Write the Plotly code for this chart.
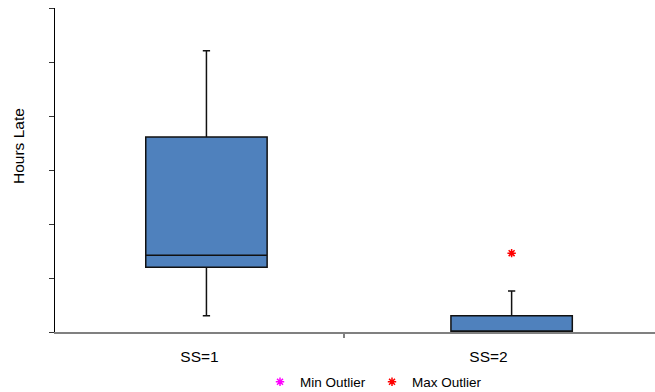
import plotly.graph_objects as go

# ---- data (y in units of the axis tick interval) ----
categories = ["SS=1", "SS=2"]
label_pos = [0.5, 1.5]
box_pos = [0.524, 1.58]
q1 = [1.20, 0.00]
median = [1.42, 0.02]
q3 = [3.61, 0.30]
lower = [0.30, 0.00]
upper = [5.21, 0.76]
max_outlier_x = [1.58]
max_outlier_y = [1.46]
min_outlier_x = [None]
min_outlier_y = [None]

FONT = "Liberation Sans, Arial, sans-serif"

fig = go.Figure()

fig.add_trace(go.Box(
    x=box_pos, q1=q1, median=median, q3=q3,
    lowerfence=lower, upperfence=upper,
    width=0.42, whiskerwidth=0.06,
    fillcolor="#4F81BD", line=dict(color="#111111", width=1.5),
    boxpoints=False, showlegend=False, hoverinfo="skip",
))

fig.add_trace(go.Scatter(
    x=min_outlier_x, y=min_outlier_y, mode="markers", name="Min Outlier",
    marker=dict(symbol="asterisk-open", size=7, color="#FF00FF",
                line=dict(color="#FF00FF", width=1.5)),
))
fig.add_trace(go.Scatter(
    x=max_outlier_x, y=max_outlier_y, mode="markers", name="Max Outlier",
    marker=dict(symbol="asterisk-open", size=7, color="#FF0000",
                line=dict(color="#FF0000", width=1.5)),
))

xr = [0, 600 / 289]

fig.update_layout(
    width=655, height=392,
    margin=dict(l=55, r=0, t=8, b=60, autoexpand=False),
    paper_bgcolor="white", plot_bgcolor="white",
    font=dict(family=FONT, size=15, color="black"),
    xaxis=dict(
        range=xr, tickmode="array", tickvals=label_pos, ticktext=categories,
        ticks="outside", ticklen=9, tickcolor="rgba(0,0,0,0)",
        showline=True, linecolor="#808080", linewidth=2,
        showgrid=False, zeroline=False, fixedrange=True, automargin=False,
        tickfont=dict(size=15.5),
    ),
    xaxis2=dict(
        range=xr, overlaying="x", anchor="y", side="bottom",
        tickmode="array", tickvals=[1.0], ticks="outside", ticklen=5,
        tickcolor="#808080", tickwidth=2, showticklabels=False,
        showline=False, showgrid=False, zeroline=False, automargin=False,
    ),
    yaxis=dict(
        range=[0, 6], dtick=1, tick0=0, ticks="outside", ticklen=5,
        tickcolor="#333333", showticklabels=False,
        showline=True, linecolor="black", linewidth=1,
        showgrid=False, zeroline=False, automargin=False,
    ),
    legend=dict(
        orientation="h", xref="container", yref="container",
        x=260 / 655, xanchor="left", y=10 / 392, yanchor="middle",
        itemwidth=30, entrywidth=67, entrywidthmode="pixels",
        font=dict(size=13.5), bgcolor="rgba(0,0,0,0)",
        tracegroupgap=0,
    ),
    annotations=[dict(
        text="Hours Late", textangle=-90, xref="paper", yref="paper",
        x=(18 - 55) / 600, y=(332 - 146) / 324, showarrow=False,
        font=dict(size=15.5), xanchor="center", yanchor="middle",
    )],
)

# dummy trace on xaxis2 so it gets drawn
fig.add_trace(go.Scatter(x=[None], y=[None], xaxis="x2", showlegend=False,
                         hoverinfo="skip"))

fig.write_html("out.html",
               config={"displayModeBar": False},
               post_script="document.body.style.margin='0px';")
